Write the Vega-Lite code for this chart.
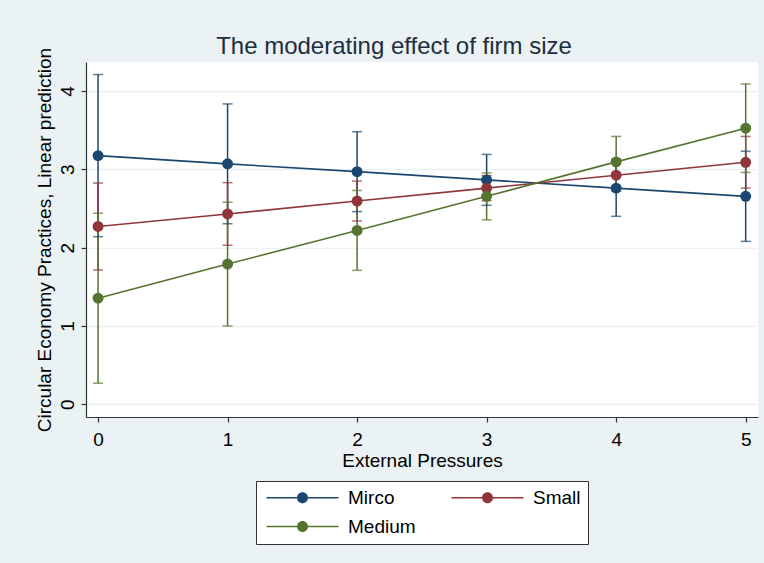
{
  "$schema": "https://vega.github.io/schema/vega-lite/v6.json",
  "autosize": {"type": "none"},
  "width": 672,
  "height": 355,
  "padding": {"left": 86, "top": 62, "right": 6, "bottom": 146},
  "background": "#eaf2f3",
  "config": {
    "font": "Liberation Sans",
    "view": {"fill": "white", "stroke": null},
    "axis": {
      "domainColor": "#333333",
      "domainWidth": 1.2,
      "tickColor": "#333333",
      "tickWidth": 1.2,
      "tickSize": 5,
      "labelFont": "Liberation Sans",
      "labelFontSize": 19,
      "labelColor": "#000000",
      "titleFont": "Liberation Sans",
      "titleFontSize": 19,
      "titleFontWeight": "normal",
      "titleColor": "#000000"
    }
  },
  "title": {
    "text": "The moderating effect of firm size",
    "font": "Liberation Sans",
    "fontSize": 24,
    "fontWeight": "normal",
    "color": "#1e2d3f",
    "anchor": "middle",
    "dx": -28,
    "offset": -12
  },
  "data": {
    "values": [
      {"x": 0, "group": "Mirco", "y": 3.175, "lo": 2.14, "hi": 4.21},
      {"x": 1, "group": "Mirco", "y": 3.07, "lo": 2.305, "hi": 3.835},
      {"x": 2, "group": "Mirco", "y": 2.97, "lo": 2.46, "hi": 3.48},
      {"x": 3, "group": "Mirco", "y": 2.865, "lo": 2.54, "hi": 3.19},
      {"x": 4, "group": "Mirco", "y": 2.76, "lo": 2.4, "hi": 3.12},
      {"x": 5, "group": "Mirco", "y": 2.655, "lo": 2.08, "hi": 3.23},
      {"x": 0, "group": "Small", "y": 2.27, "lo": 1.715, "hi": 2.825},
      {"x": 1, "group": "Small", "y": 2.43, "lo": 2.03, "hi": 2.83},
      {"x": 2, "group": "Small", "y": 2.595, "lo": 2.34, "hi": 2.85},
      {"x": 3, "group": "Small", "y": 2.76, "lo": 2.6, "hi": 2.92},
      {"x": 4, "group": "Small", "y": 2.925, "lo": 2.72, "hi": 3.13},
      {"x": 5, "group": "Small", "y": 3.09, "lo": 2.76, "hi": 3.42},
      {"x": 0, "group": "Medium", "y": 1.355, "lo": 0.27, "hi": 2.44},
      {"x": 1, "group": "Medium", "y": 1.79, "lo": 1.0, "hi": 2.58},
      {"x": 2, "group": "Medium", "y": 2.22, "lo": 1.71, "hi": 2.73},
      {"x": 3, "group": "Medium", "y": 2.655, "lo": 2.355, "hi": 2.955},
      {"x": 4, "group": "Medium", "y": 3.095, "lo": 2.77, "hi": 3.42},
      {"x": 5, "group": "Medium", "y": 3.525, "lo": 2.96, "hi": 4.09}
    ]
  },
  "encoding": {
    "x": {
      "field": "x",
      "type": "quantitative",
      "title": "External Pressures",
      "scale": {"domain": [-0.093, 5.095], "nice": false, "zero": false},
      "axis": {"values": [0, 1, 2, 3, 4, 5], "grid": false, "labelPadding": 8, "titlePadding": 2, "format": "d"}
    },
    "color": {
      "field": "group",
      "type": "nominal",
      "sort": ["Mirco", "Small", "Medium"],
      "scale": {"domain": ["Mirco", "Small", "Medium"], "range": ["#1a476f", "#90353b", "#55752f"]},
      "legend": {
        "title": null,
        "orient": "none",
        "legendX": 170,
        "legendY": 419,
        "direction": "horizontal",
        "columns": 2,
        "columnPadding": 32,
        "rowPadding": 9,
        "padding": 7,
        "fillColor": "white",
        "strokeColor": "#333333",
        "cornerRadius": 0,
        "symbolType": "M-6,-0.125L6,-0.125L6,0.125L-6,0.125Z M0.917,0A0.917,0.917,0,1,1,-0.917,0A0.917,0.917,0,1,1,0.917,0Z",
        "symbolSize": 144,
        "symbolOffset": 30,
        "symbolStrokeWidth": 0,
        "symbolOpacity": 1,
        "labelOffset": 36,
        "labelFont": "Liberation Sans",
        "labelFontSize": 19,
        "labelColor": "#000000"
      }
    }
  },
  "layer": [
    {
      "mark": {"type": "rule", "strokeWidth": 1.5},
      "encoding": {
        "y": {
          "field": "lo",
          "type": "quantitative",
          "title": "Circular Economy Practices, Linear prediction",
          "scale": {"domain": [-0.162, 4.37], "nice": false, "zero": false},
          "axis": {
            "values": [0, 1, 2, 3, 4],
            "grid": true,
            "gridColor": "#eaf2f3",
            "gridWidth": 1.5,
            "labelAngle": -90,
            "labelAlign": "center",
            "labelBaseline": "bottom",
            "labelPadding": 4,
            "titlePadding": 4,
            "format": "d"
          }
        },
        "y2": {"field": "hi"}
      }
    },
    {
      "mark": {"type": "tick", "orient": "horizontal", "size": 10, "thickness": 1.5},
      "encoding": {"y": {"field": "lo", "type": "quantitative"}}
    },
    {
      "mark": {"type": "tick", "orient": "horizontal", "size": 10, "thickness": 1.5},
      "encoding": {"y": {"field": "hi", "type": "quantitative"}}
    },
    {
      "mark": {"type": "line", "strokeWidth": 1.6},
      "encoding": {"y": {"field": "y", "type": "quantitative"}}
    },
    {
      "mark": {"type": "point", "filled": true, "opacity": 1, "size": 120},
      "encoding": {"y": {"field": "y", "type": "quantitative"}}
    }
  ]
}
